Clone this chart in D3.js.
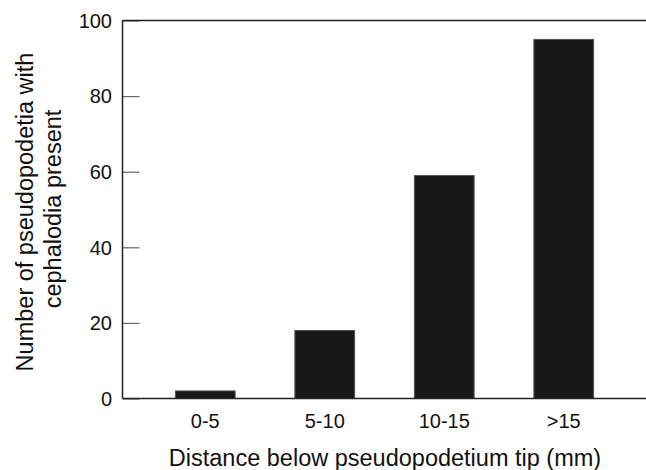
<!DOCTYPE html>
<html>
<head>
<meta charset="utf-8">
<script src="https://cdn.jsdelivr.net/npm/d3@7"></script>
<style>
  body { margin: 0; background: #fff; }
  text { font-family: "Liberation Sans", Arial, sans-serif; fill: #111; }
</style>
</head>
<body>
<svg width="646" height="470"></svg>
<script>
var categories = ["0-5", "5-10", "10-15", ">15"];
var counts = [2, 18, 59, 95];
var yTicks = [0, 20, 40, 60, 80, 100];

var svg = d3.select("svg"),
  plotLeft = 122.5, plotRight = 646, plotTop = 20.5, plotBottom = 398.5;

var x = d3.scaleBand()
  .domain(categories)
  .range([145.5, 623.5])
  .paddingInner(0.5)
  .paddingOuter(0.25);

var y = d3.scaleLinear()
  .domain([0, 100])
  .range([plotBottom, plotTop]);

// bars
svg.append("g")
  .selectAll("rect")
  .data(counts)
  .enter().append("rect")
  .attr("x", function (d, i) { return x(categories[i]); })
  .attr("y", function (d) { return y(d); })
  .attr("width", x.bandwidth())
  .attr("height", function (d) { return plotBottom - y(d); })
  .attr("fill", "#181818")
  .attr("stroke", "#555")
  .attr("stroke-width", 1);

// y axis, ticks pointing inward
var yAxis = svg.append("g")
  .attr("transform", "translate(" + plotLeft + ",0)")
  .call(d3.axisRight(y).tickValues(yTicks).tickSize(17).tickFormat(""));
yAxis.select(".domain").remove();
yAxis.selectAll(".tick line").attr("stroke", "#666").attr("stroke-width", 1.2);

svg.append("g")
  .selectAll("text")
  .data(yTicks)
  .enter().append("text")
  .attr("x", 112)
  .attr("y", function (d) { return y(d); })
  .attr("dy", "0.36em")
  .attr("text-anchor", "end")
  .style("font-size", "20px")
  .text(function (d) { return d; });

// frame lines
svg.append("line").attr("x1", plotLeft).attr("x2", plotLeft).attr("y1", plotTop).attr("y2", plotBottom)
  .attr("stroke", "#222").attr("stroke-width", 1.5);
svg.append("line").attr("x1", plotLeft).attr("x2", plotRight).attr("y1", plotTop).attr("y2", plotTop)
  .attr("stroke", "#222").attr("stroke-width", 1.5);
svg.append("line").attr("x1", plotLeft).attr("x2", plotRight).attr("y1", plotBottom).attr("y2", plotBottom)
  .attr("stroke", "#222").attr("stroke-width", 1.5);

// x tick labels
svg.append("g")
  .selectAll("text")
  .data(categories)
  .enter().append("text")
  .attr("x", function (d) { return x(d) + x.bandwidth() / 2; })
  .attr("y", 427.5)
  .attr("text-anchor", "middle")
  .style("font-size", "20px")
  .text(function (d) { return d; });

// axis titles
svg.append("text")
  .attr("x", 385)
  .attr("y", 465.5)
  .attr("text-anchor", "middle")
  .style("font-size", "23.5px")
  .text("Distance below pseudopodetium tip (mm)");

svg.append("text")
  .attr("transform", "translate(33,212) rotate(-90)")
  .attr("text-anchor", "middle")
  .style("font-size", "23.5px")
  .text("Number of pseudopodetia with");
svg.append("text")
  .attr("transform", "translate(60.5,209) rotate(-90)")
  .attr("text-anchor", "middle")
  .style("font-size", "23.5px")
  .text("cephalodia present");
</script>
</body>
</html>
